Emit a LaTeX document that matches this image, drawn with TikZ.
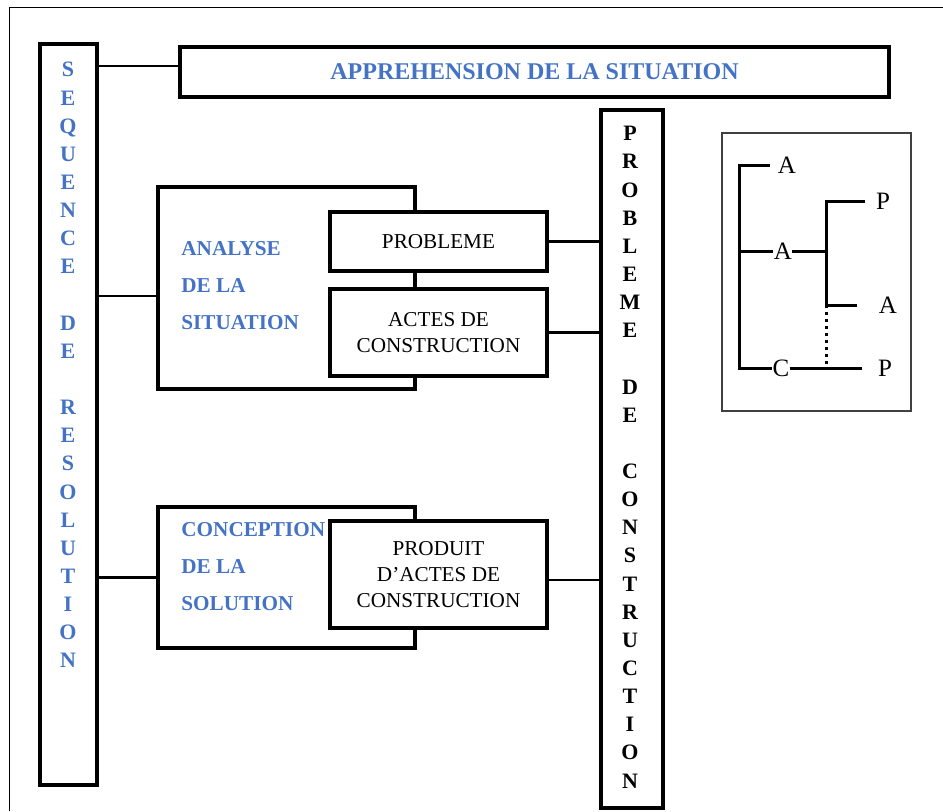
\documentclass[tikz,border=0pt]{standalone}
\usepackage{fontspec}
\setmainfont{Liberation Serif}
\definecolor{seqblue}{HTML}{4472C4}

\begin{document}
\begin{tikzpicture}
[x=0.5pt,y=-0.5pt,
					box/.style={rectangle,draw=black,line width=1.6pt,fill=white,inner sep=0pt,align=center,font=\fontsize{10.6}{13}\selectfont},
					lbl/.style={text=seqblue,font=\fontsize{10.6}{18.5}\selectfont\bfseries,align=left,anchor=west,inner sep=0pt},
					vtxt/.style={font=\fontsize{11}{14.07}\selectfont\bfseries,align=center,anchor=north,inner sep=0pt},
					wire/.style={line width=1.4pt},
					tree/.style={line width=1.5pt},
					lt/.style={font=\fontsize{12.5}{14}\selectfont,inner sep=0pt}]
					\useasboundingbox (0,0) rectangle (943,811);
					\draw[line width=0.5pt] (9,811) -- (9,7) -- (943,7);
					% left column
					\node[box,minimum width=28.5pt,minimum height=370.5pt] (seq) at (68.5,414.5) {};
					\node[vtxt,text=seqblue] (seqtxt) at (68,62) {S\\E\\Q\\U\\E\\N\\C\\E\\~\\D\\E\\~\\R\\E\\S\\O\\L\\U\\T\\I\\O\\N};
					\node[box,minimum width=354.5pt,minimum height=25pt,text=seqblue,font=\fontsize{12}{14}\selectfont\bfseries] (appr) at (534.5,72) {APPREHENSION DE LA SITUATION};
					% analyse
					\node[box,fill=none,minimum width=128.5pt,minimum height=101pt] (ana) at (286.5,288) {};
					\node[lbl] (anatxt) at (181,285.5) {ANALYSE\\DE LA\\SITUATION};
					\node[box,minimum width=108.5pt,minimum height=29.5pt] (prob) at (438.5,241.5) {PROBLEME};
					\node[box,minimum width=108.5pt,minimum height=43.5pt] (actes) at (438.5,332.5) {ACTES DE\\CONSTRUCTION};
					% conception
					\node[box,fill=none,minimum width=128.5pt,minimum height=70.5pt] (conc) at (286.5,577.5) {};
					\node[lbl] (conctxt) at (181,567) {CONCEPTION\\DE LA\\SOLUTION};
					\node[box,minimum width=108.5pt,minimum height=53.5pt] (prod) at (438.5,574.5) {PRODUIT\\D’ACTES DE\\CONSTRUCTION};
					% right column
					\node[box,minimum width=31pt,minimum height=349pt] (pdc) at (632,459) {};
					\node[vtxt] (pdctxt) at (630,126) {P\\R\\O\\B\\L\\E\\M\\E\\~\\D\\E\\~\\C\\O\\N\\S\\T\\R\\U\\C\\T\\I\\O\\N};
					\path ([yshift=3pt]appr.west) coordinate (c1);
					\path ([yshift=-4pt]ana.west) coordinate (c2);
					\path ([yshift=-2.75pt]prod.east) coordinate (c3);
					\draw[wire] (c1) -- (seq.east |- c1);
					\draw[wire] (c2) -- (seq.east |- c2);
					\draw[wire] (conc.west) -- (seq.east |- conc.west);
					\draw[wire] (prob.east) -- (pdc.west |- prob.east);
					\draw[wire] (actes.east) -- (pdc.west |- actes.east);
					\draw[wire] (c3) -- (pdc.west |- c3);
					% legend
					\node[draw=black!75,line width=0.9pt,minimum width=94.5pt,minimum height=139pt,inner sep=0pt] (leg) at (816.5,272) {};
					\node[lt] (la1) at (787,165) {A};
					\node[lt] (la2) at (783,251) {A};
					\node[lt] (lp1) at (883,201) {P};
					\node[lt] (la3) at (888,305) {A};
					\node[lt] (lc) at (781,368) {C};
					\node[lt] (lp2) at (885,368) {P};
					\coordinate (spine) at (739,250);
					\coordinate (sub) at (826,250);
					\draw[tree] ([xshift=-4pt]la1.west) -- (la1.west -| spine) -- (lc.west -| spine) -- (lc.west);
					\draw[tree] (spine |- la2.west) -- ([xshift=-0.5pt]la2.west);
					\draw[tree] (la2.east) -- (sub |- la2.east);
					\draw[tree] ([xshift=-5.5pt]lp1.west) -- (lp1.west -| sub) -- (la3.west -| sub) -- ([xshift=-11pt]la3.west);
					\draw[tree,dotted] (la3.west -| sub) -- (sub |- lc.east);
					\draw[tree] (lc.east) -- ([xshift=-8pt]lp2.west);
				\end{tikzpicture}
\end{document}
